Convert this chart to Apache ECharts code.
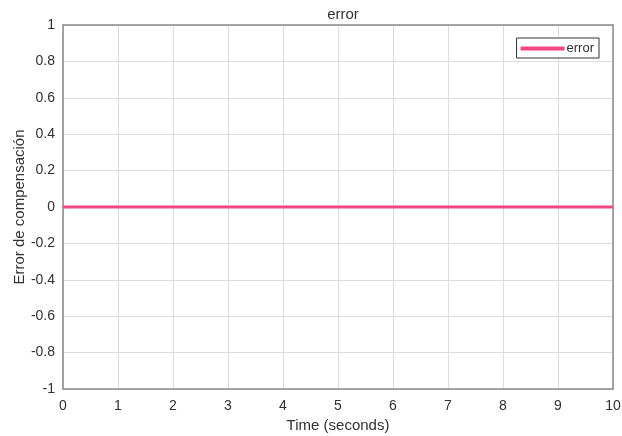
<!DOCTYPE html>
<html>
<head>
<meta charset="utf-8">
<script src="https://cdn.jsdelivr.net/npm/echarts@6/dist/echarts.min.js"></script>
<style>
  html, body { margin: 0; padding: 0; background: #fff; }
  #chart { width: 622px; height: 436px; }
</style>
</head>
<body>
<div id="chart"></div>
<script>
// Compensation error over the simulation run
const timeSeconds = [0, 1, 2, 3, 4, 5, 6, 7, 8, 9, 10];
const errorValues = [0, 0, 0, 0, 0, 0, 0, 0, 0, 0, 0];
const xTicks = [0, 1, 2, 3, 4, 5, 6, 7, 8, 9, 10];
const yTicks = [-1, -0.8, -0.6, -0.4, -0.2, 0, 0.2, 0.4, 0.6, 0.8, 1];

const font = 'Liberation Sans, Arial, sans-serif';
const axisColor = '#8a8a8a';
const textColor = '#303030';
const gridColor = '#dcdcdc';

const chart = echarts.init(document.getElementById('chart'), null, { renderer: 'canvas' });

// Fresh axis line settings for each axis (boxed frame)
function frame() {
  return {
    axisLine: { show: true, onZero: false, lineStyle: { color: axisColor, width: 1.5 } },
    axisTick: { show: false }
  };
}
function xBase() {
  return Object.assign({ type: 'value', min: xTicks[0], max: xTicks[xTicks.length - 1], interval: 1 }, frame());
}
function yBase() {
  return Object.assign({ type: 'value', min: yTicks[0], max: yTicks[yTicks.length - 1], interval: 0.2 }, frame());
}

chart.setOption({
  animation: false,
  backgroundColor: '#fff',
  title: {
    text: 'error', left: 338, top: 2, textAlign: 'center',
    textStyle: { fontFamily: font, fontSize: 15, fontWeight: 'normal', color: textColor }
  },
  grid: { left: 63, right: 9, top: 25, bottom: 47, outerBoundsMode: 'none', containLabel: false },
  legend: {
    right: 23, top: 38, orient: 'vertical',
    backgroundColor: '#fff', borderColor: '#333', borderWidth: 1,
    padding: [4, 5, 3, 4], itemWidth: 44, itemHeight: 4, itemGap: 0,
    icon: 'rect',
    textStyle: { fontFamily: font, fontSize: 13, color: textColor, padding: [0, 0, 0, -3] },
    data: ['error']
  },
  xAxis: [
    Object.assign(xBase(), {
      position: 'bottom',
      name: 'Time (seconds)', nameLocation: 'middle', nameGap: 29, nameMoveOverlap: false,
      nameTextStyle: { fontFamily: font, fontSize: 15, color: textColor },
      axisLabel: { fontFamily: font, fontSize: 14, color: textColor, margin: 10,
        formatter: v => String(v) },
      splitLine: { show: true, lineStyle: { color: gridColor, width: 1 } }
    }),
    Object.assign(xBase(), {
      position: 'top', axisLabel: { show: false }, splitLine: { show: false }
    })
  ],
  yAxis: [
    Object.assign(yBase(), {
      position: 'left',
      name: 'Error de compensación', nameLocation: 'middle', nameGap: 36, nameMoveOverlap: false,
      nameTextStyle: { fontFamily: font, fontSize: 15, color: textColor },
      axisLabel: { fontFamily: font, fontSize: 14, color: textColor, margin: 8,
        formatter: v => String(Math.round(v * 10) / 10) },
      splitLine: { show: true, lineStyle: { color: gridColor, width: 1 } }
    }),
    Object.assign(yBase(), {
      position: 'right', axisLabel: { show: false }, splitLine: { show: false }
    })
  ],
  series: [{
    name: 'error', type: 'line',
    data: timeSeconds.map((t, i) => [t, errorValues[i]]),
    showSymbol: false, symbol: 'none',
    lineStyle: { color: '#f7467f', width: 3 },
    itemStyle: { color: '#f7467f' }
  }]
});
</script>
</body>
</html>
